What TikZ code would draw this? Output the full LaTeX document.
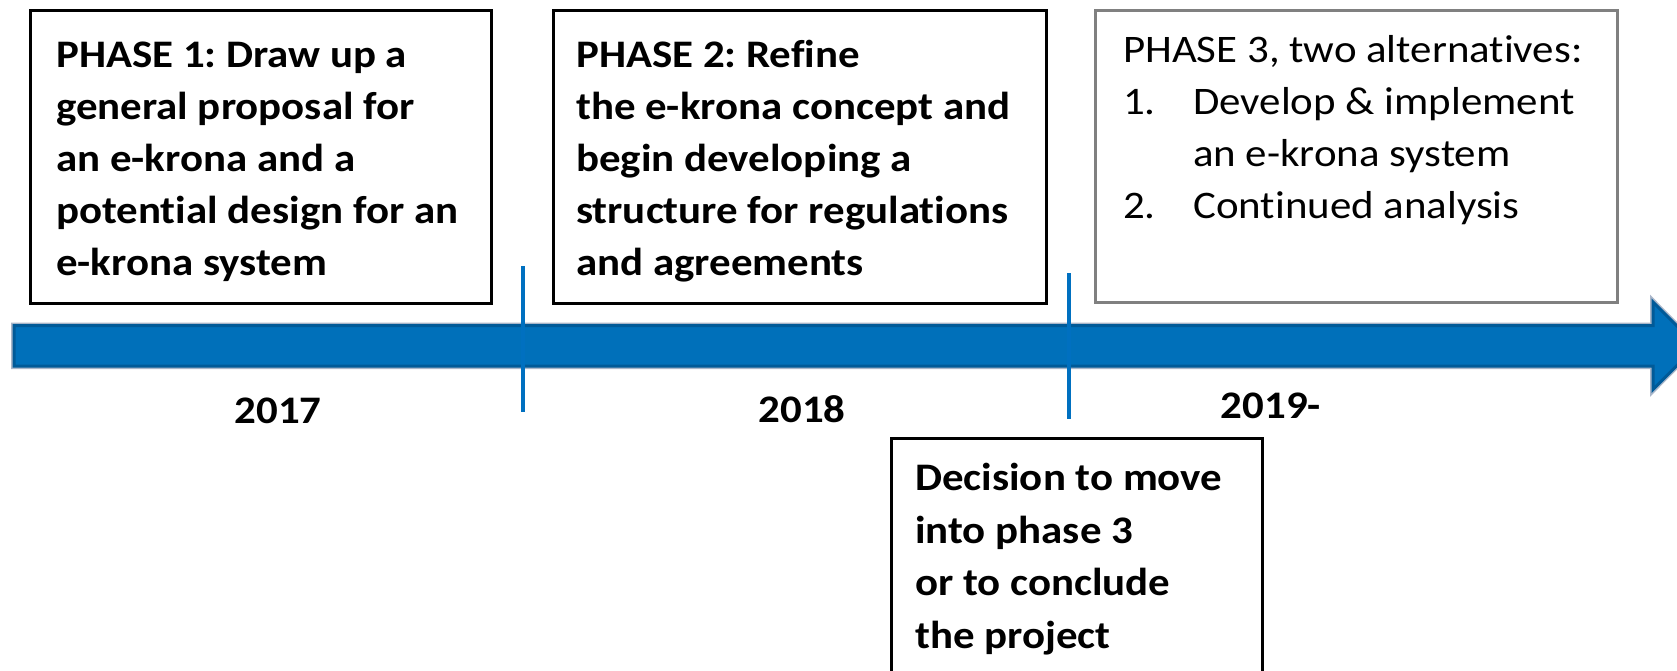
\documentclass[tikz,border=0pt]{standalone}
\usepackage{fontspec}
\setmainfont{Carlito}[FakeStretch=1.1, Ligatures=NoCommon]
\frenchspacing
\definecolor{barblue}{HTML}{0070BA}
\definecolor{baredge}{HTML}{005A98}
\definecolor{barhalo}{HTML}{A9B6C9}
\definecolor{tickblue}{HTML}{0070C0}
\definecolor{boxgray}{HTML}{808080}
\begin{document}
\begin{tikzpicture}[x=1pt,y=-1pt,
  blackbox/.style={draw=black, line width=3pt, fill=white, inner sep=0pt},
  graybox/.style={draw=boxgray, line width=2.5pt, fill=white, inner sep=0pt},
  % multi-line texts are placed by the baseline of their last line
  boxtext/.style={anchor=base west, inner sep=0pt, align=left,
    font={\fontsize{39}{52}\selectfont\bfseries}},
  plaintext/.style={anchor=base west, inner sep=0pt, align=left,
    font={\fontsize{39}{52}\selectfont}},
  yeartext/.style={anchor=base, inner sep=0pt,
    font={\fontsize{39}{50}\selectfont\bfseries}},
  tickline/.style={draw=tickblue, line width=3.5pt}]
\useasboundingbox (0,0) rectangle (1677,670);
\clip (0,0) rectangle (1677,670);
\fill[white] (0,0) rectangle (1677,670);

% timeline arrow: light halo, dark rim, blue body
\path[draw=barhalo, line width=6pt, line join=miter]
  (14,325.5) -- (1653,325.5) -- (1653,302) -- (1696.5,345.75)
  -- (1653,389.5) -- (1653,366) -- (14,366) -- cycle;
\path[fill=barblue, draw=baredge, line width=3pt, line join=miter]
  (14,325.5) -- (1653,325.5) -- (1653,302) -- (1696.5,345.75)
  -- (1653,389.5) -- (1653,366) -- (14,366) -- cycle;

% phase boxes
\node[blackbox, minimum width=461pt, minimum height=293pt] (p1) at (261,157) {};
\node[blackbox, minimum width=493pt, minimum height=293pt] (p2) at (800,157) {};
\node[graybox, minimum width=522.4pt, minimum height=292.4pt] (p3) at (1356.5,156.5) {};
\node[blackbox, minimum width=371pt, minimum height=281.5pt] (dec) at (1077,579.25) {};

% box texts
\node[boxtext] (t1) at (56,275) {PHASE 1: Draw up a\\general proposal for\\an e-krona and a\\potential design for an\\e-krona system};
\node[boxtext] (t2) at (576,275) {PHASE 2: Refine\\the e-krona concept and\\begin developing a\\structure for regulations\\and agreements};
\node[plaintext] (t3) at (1123,218) {PHASE 3, two alternatives:\\
  \makebox[70pt][l]{1.}Develop \& implement\\
  \hspace*{70pt}an e-krona system\\
  \makebox[70pt][l]{2.}Continued analysis};
\node[boxtext, font={\fontsize{39}{52.5}\selectfont\bfseries}] (td) at (915,648) {Decision to move\\into phase 3\\or to conclude\\the project};

% period boundaries
\coordinate (k1a) at (523,266);
\coordinate (k1b) at (523,412);
\coordinate (k2a) at (1069,273);
\coordinate (k2b) at (1069,419);
\draw[tickline] (k1a) -- (k1b);
\draw[tickline] (k2a) -- (k2b);

% years
\node[yeartext] (y17) at (278,423) {2017};
\node[yeartext] (y18) at (802,422) {2018};
\node[yeartext] (y19) at (1271,418) {2019-};
\end{tikzpicture}
\end{document}
